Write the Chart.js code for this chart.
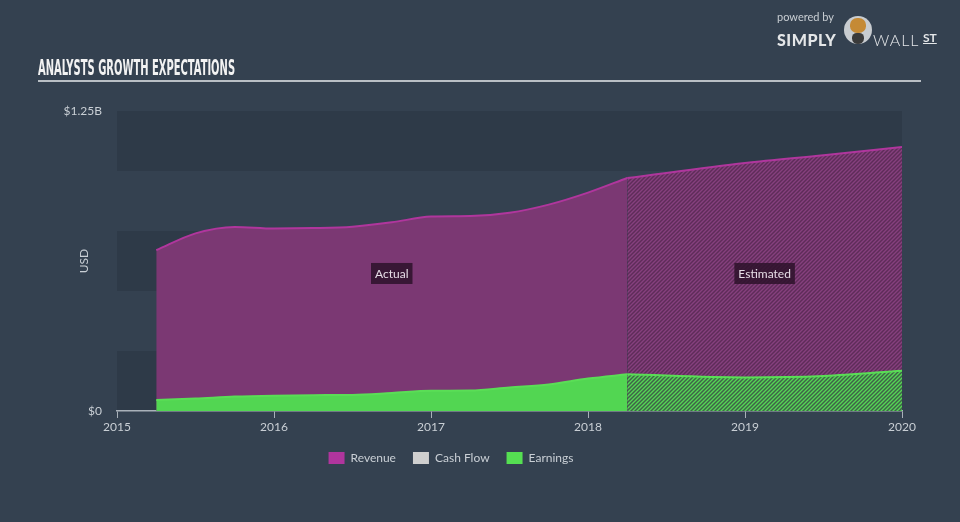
<!DOCTYPE html>
<html>
<head>
<meta charset="utf-8">
<script src="https://cdn.jsdelivr.net/npm/chart.js@4/dist/chart.umd.min.js"></script>
<style>
  html, body { margin: 0; padding: 0; background: #344150; }
  #wrap { position: relative; width: 960px; height: 522px; overflow: hidden; font-family: Lato, "Open Sans", sans-serif; }
  #chart { position: absolute; left: 0; top: 0; }
  #title { position: absolute; left: 38px; top: 56px; font-family: "Liberation Sans Narrow", "DejaVu Sans Condensed", sans-serif; font-weight: bold; font-size: 21px; color: #f2f2f2; white-space: nowrap; transform-origin: left top; letter-spacing: 0; }
  #rule { position: absolute; left: 38px; top: 80px; width: 883px; height: 2px; background: #b9bfc5; }
  #logo { position: absolute; left: 777px; top: 10px; color: #e4e6e8; }
  #logo .pw { position: absolute; left: 0; top: 0; font-size: 11px; color: #c9ced3; white-space: nowrap; }
  #logo .simply { position: absolute; left: 0; top: 20px; font-size: 16px; font-weight: 900; letter-spacing: 0.5px; white-space: nowrap; }
  #logo .bull { position: absolute; left: 67px; top: 6px; width: 28px; height: 28px; border-radius: 50%; background: #c8ccd0; }
  #logo .bull::before { content: ""; position: absolute; left: 6px; top: 2px; width: 16px; height: 15px; border-radius: 45%; background: #c58a35; }
  #logo .bull::after { content: ""; position: absolute; left: 8px; top: 17px; width: 12px; height: 11px; border-radius: 40% 40% 50% 50%; background: #3a3a3a; }
  #logo .wall { position: absolute; left: 96px; top: 20px; font-size: 16px; font-weight: 300; letter-spacing: 1px; white-space: nowrap; }
  #logo .st { position: absolute; left: 146px; top: 20px; font-size: 12px; font-weight: 700; text-decoration: underline; white-space: nowrap; }
</style>
</head>
<body>
<div id="wrap">
  <canvas id="chart" width="960" height="522"></canvas>
  <div id="title">ANALYSTS GROWTH EXPECTATIONS</div>
  <div id="rule"></div>
  <div id="logo">
    <span class="pw">powered by</span>
    <span class="simply">SIMPLY</span>
    <span class="bull"></span>
    <span class="wall">WALL</span>
    <span class="st">ST</span>
  </div>
</div>
<script>
(() => {
  'use strict'
  // valeurs en milliards USD
  const actualYears = [2015.25, 2015.5, 2015.75, 2016, 2016.25, 2016.5, 2016.75, 2017, 2017.25, 2017.5, 2017.75, 2018, 2018.25];
  const actualRevenue = [0.67, 0.74, 0.767, 0.76, 0.762, 0.768, 0.786, 0.81, 0.812, 0.826, 0.86, 0.91, 0.971];
  const actualEarnings = [0.046, 0.052, 0.06, 0.064, 0.066, 0.067, 0.075, 0.084, 0.085, 0.098, 0.11, 0.135, 0.153];

  const estYears = [2018.25, 2019, 2019.5, 2020];
  const estRevenue = [0.971, 1.033, 1.066, 1.1];
  const estEarnings = [0.153, 0.14, 0.146, 0.168];

  const xTicks = [2015, 2016, 2017, 2018, 2019, 2020];
  const yTicks = [0, 1.25];

  const toPoints = (xs, ys) => xs.map((x, i) => ({ x: x, y: ys[i] }));

  // motif hachuré pour les estimations
  const hatch = (base, line) => {
    const c = document.createElement('canvas');
    c.width = 4; c.height = 4;
    const g = c.getContext('2d');
    g.fillStyle = base;
    g.fillRect(0, 0, 4, 4);
    g.strokeStyle = line;
    g.lineWidth = 1.4;
    g.beginPath();
    g.moveTo(0, 4); g.lineTo(4, 0);
    g.moveTo(-1, 1); g.lineTo(1, -1);
    g.moveTo(3, 5); g.lineTo(5, 3);
    g.stroke();
    return g.createPattern(c, 'repeat');
  };

  // titre condensé à la bonne largeur
  const title = document.getElementById('title');
  title.style.transform = 'scaleX(' + (197 / title.offsetWidth) + ')';

  const bands = {
    id: 'bands',
    beforeDraw(chart) {
      const { ctx, chartArea, scales: { y } } = chart;
      ctx.save();
      for (let i = 0; i < 5; i++) {
        const top = y.getPixelForValue((i + 1) * 0.25);
        const bottom = y.getPixelForValue(i * 0.25);
        ctx.fillStyle = i % 2 === 0 ? '#2e3a48' : '#344150';
        ctx.fillRect(chartArea.left, top, chartArea.right - chartArea.left, bottom - top);
      }
      ctx.restore();
    }
  };

  const tags = {
    id: 'tags',
    afterDatasetsDraw(chart) {
      const { ctx, scales: { x, y } } = chart;
      const draw = (text, xv) => {
        ctx.save();
        ctx.font = '12px Lato, "Open Sans", sans-serif';
        const w = ctx.measureText(text).width + 8;
        const cx = x.getPixelForValue(xv);
        const cy = y.getPixelForValue(0.573);
        ctx.fillStyle = 'rgba(45, 18, 42, 0.85)';
        ctx.fillRect(cx - w / 2, cy - 10.5, w, 21);
        ctx.fillStyle = '#e6dde6';
        ctx.textAlign = 'center';
        ctx.textBaseline = 'middle';
        ctx.fillText(text, cx, cy + 0.5);
        ctx.restore();
      };
      draw('Actual', (actualYears[0] + actualYears[actualYears.length - 1]) / 2);
      draw('Estimated', (estYears[0] + estYears[estYears.length - 1]) / 2);
    }
  };

  const textColor = '#c9cfd5';
  const axisColor = '#a9b1b9';

  new Chart(document.getElementById('chart'), {
    type: 'line',
    data: {
      datasets: [{
        label: 'Revenue',
        data: toPoints(actualYears, actualRevenue),
        borderColor: '#b0369d',
        backgroundColor: '#7b3873',
        legendColor: '#b0359d',
        borderWidth: 2,
        fill: 'origin',
        order: 2
      }, {
        label: 'Revenue estimate',
        data: toPoints(estYears, estRevenue),
        borderColor: '#b0369d',
        backgroundColor: hatch('#5e2c59', '#86407e'),
        borderWidth: 2,
        fill: 'origin',
        order: 2
      }, {
        label: 'Cash Flow',
        data: [],
        borderColor: '#cfcfcf',
        backgroundColor: '#cfcfcf',
        legendColor: '#cfcfcf',
        order: 1
      }, {
        label: 'Earnings',
        data: toPoints(actualYears, actualEarnings),
        borderColor: '#5ade56',
        backgroundColor: '#52d652',
        legendColor: '#55df52',
        borderWidth: 2,
        fill: 'origin',
        order: 0
      }, {
        label: 'Earnings estimate',
        data: toPoints(estYears, estEarnings),
        borderColor: '#5ade56',
        backgroundColor: hatch('#3f6248', '#55d655'),
        borderWidth: 2,
        fill: 'origin',
        order: 0
      }]
    },
    options: {
      responsive: false,
      animation: false,
      events: [],
      cubicInterpolationMode: 'monotone',
      elements: { point: { radius: 0 } },
      layout: { padding: { left: 0, right: 58, top: 111, bottom: 48 } },
      scales: {
        x: {
          type: 'linear',
          min: 2015,
          max: 2020,
          afterBuildTicks: (scale) => { scale.ticks = xTicks.map(v => ({ value: v })); },
          afterFit: (scale) => { scale.height = 24; },
          ticks: {
            color: textColor,
            font: { family: 'Lato, "Open Sans", sans-serif', size: 12 },
            padding: 2,
            maxRotation: 0,
            callback: (v) => String(v)
          },
          grid: { drawOnChartArea: false, drawTicks: true, tickLength: 7, color: axisColor, tickColor: axisColor },
          border: { color: axisColor, width: 1.5 }
        },
        y: {
          min: 0,
          max: 1.25,
          afterBuildTicks: (scale) => { scale.ticks = yTicks.map(v => ({ value: v })); },
          afterFit: (scale) => { scale.width = 117; },
          ticks: {
            color: textColor,
            font: { family: 'Lato, "Open Sans", sans-serif', size: 12 },
            padding: 15,
            callback: (v) => v === 0 ? '$0' : '$' + v + 'B'
          },
          grid: { display: false, drawTicks: false },
          border: { display: false },
          title: {
            display: true,
            text: 'USD',
            color: textColor,
            font: { family: 'Lato, "Open Sans", sans-serif', size: 12 },
            padding: { top: 77, bottom: 0 }
          }
        }
      },
      plugins: {
        tooltip: { enabled: false },
        legend: {
          position: 'bottom',
          labels: {
            boxWidth: 16,
            boxHeight: 12,
            padding: 17,
            color: textColor,
            font: { family: 'Lato, "Open Sans", sans-serif', size: 12 },
            generateLabels: (chart) => chart.data.datasets
              .map((ds, i) => ({ text: ds.label, fillStyle: ds.legendColor, strokeStyle: ds.legendColor, lineWidth: 0, hidden: false, datasetIndex: i, fontColor: textColor }))
              .filter(item => !item.text.includes('estimate'))
          }
        }
      }
    },
    plugins: [bands, tags]
  });
})();
</script>
</body>
</html>
